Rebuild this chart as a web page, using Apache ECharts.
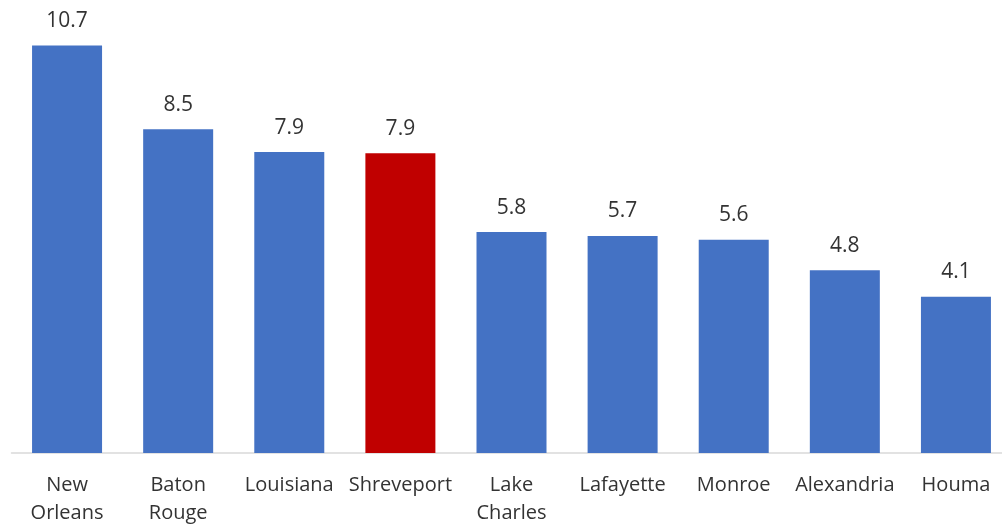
<!DOCTYPE html>
<html>
<head>
<meta charset="utf-8">
<script src="https://cdn.jsdelivr.net/npm/echarts@6/dist/echarts.min.js"></script>
<style>html,body{margin:0;padding:0;background:#fff;}#c{width:1002px;height:524px;}</style>
</head>
<body>
<div id="c"></div>
<script>
var categories = ["New\nOrleans", "Baton\nRouge", "Louisiana", "Shreveport", "Lake\nCharles", "Lafayette", "Monroe", "Alexandria", "Houma"];
var values = [10.7, 8.5, 7.9, 7.87, 5.8, 5.7, 5.6, 4.8, 4.1];
var highlight = "Shreveport";

var chart = echarts.init(document.getElementById('c'));
chart.setOption({
  animation: false,
  grid: { left: 11.5, top: 34, width: 1000, height: 419, outerBoundsMode: 'none', containLabel: false },
  xAxis: {
    type: 'category',
    data: categories,
    axisLine: { show: true, lineStyle: { color: '#d9d9d9', width: 1.5 } },
    axisTick: { show: false },
    axisLabel: { margin: 18, fontSize: 20, lineHeight: 28, color: '#333333', fontFamily: 'Open Sans', interval: 0 }
  },
  yAxis: {
    type: 'value', min: 0, max: 11,
    show: false, splitLine: { show: false }
  },
  series: [{
    type: 'bar',
    barWidth: 70,
    data: values.map(function (v, i) {
      return { value: v, itemStyle: { color: categories[i] === highlight ? '#C00000' : '#4472C4' } };
    }),
    label: {
      show: true, position: 'top', distance: 14, fontSize: 21, color: '#333333', fontFamily: 'Open Sans',
      formatter: function (p) { return p.value.toFixed(1); }
    }
  }]
});
</script>
</body>
</html>
